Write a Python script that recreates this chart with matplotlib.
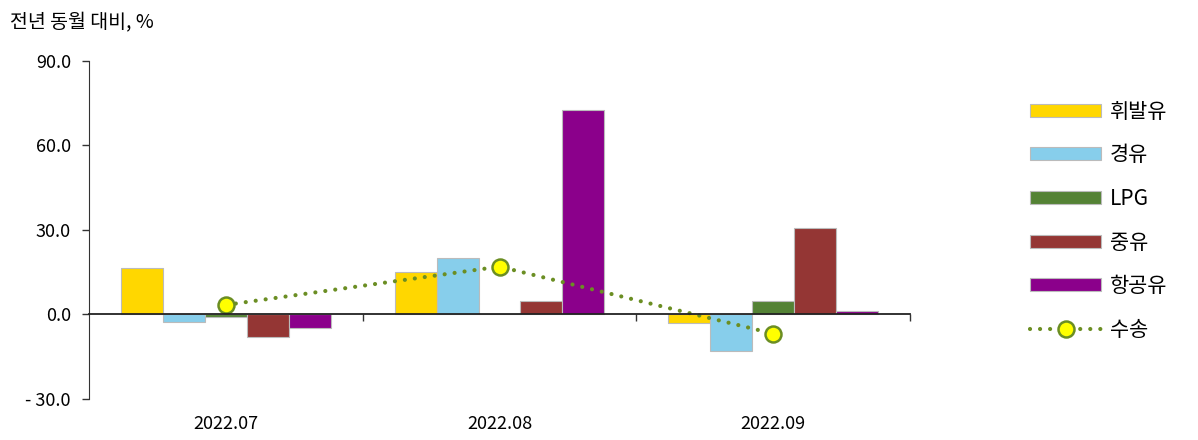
import numpy as np
import matplotlib.pyplot as plt
from matplotlib.transforms import blended_transform_factory

plt.rcParams['font.family'] = ['Noto Sans CJK KR', 'DejaVu Sans']

# data
months = ['2022.07', '2022.08', '2022.09']
series = ['휘발유', '경유', 'LPG', '중유', '항공유']
gasoline = [16.5, 15.1, -2.9]
diesel = [-2.8, 20.0, -13.0]
lpg = [-0.8, 0.0, 4.9]
heavy = [-8.0, 4.8, 30.8]
jet = [-4.8, 72.6, 1.2]
transport = [3.4, 17.0, -6.8]
yticks = [-30, 0, 30, 60, 90]
ylabels = ['- 30.0', '0.0', '30.0', '60.0', '90.0']

colors = ['#FFD700', '#87CEEB', '#548235', '#943634', '#8B008B']

fig = plt.figure(figsize=(11.98, 4.4), dpi=100)
ax = fig.add_axes([0.0743, 0.0932, 0.6853, 0.7682])

x = np.arange(len(months))
w = 0.153
for i, (name, vals) in enumerate(zip(series, [gasoline, diesel, lpg, heavy, jet])):
    ax.bar(x + (i - 2) * w, vals, width=w, color=colors[i], edgecolor='#BBBBBB',
           linewidth=0.8, label=name, zorder=2)

ax.plot(x, transport, color='#6B8E23', linestyle=(0, (0.01, 2.4)), linewidth=3,
        dash_capstyle='round', marker='o', markersize=11.5, markerfacecolor='#FFFF00',
        markeredgecolor='#6B8E23', markeredgewidth=1.8, label='수송', zorder=3)

ax.set_xlim(-0.5, 2.5)
ax.set_ylim(-30, 90)
ax.set_yticks(yticks)
ax.set_yticklabels(ylabels, fontsize=13)
ax.tick_params(axis='y', length=5, width=1, color='#333333', pad=8)

for s in ['top', 'right']:
    ax.spines[s].set_visible(False)
ax.spines['left'].set_color('#333333')
ax.spines['bottom'].set_position(('data', 0))
ax.spines['bottom'].set_color('#222222')
ax.spines['bottom'].set_linewidth(1.3)
ax.spines['bottom'].set_zorder(4)
ax.set_xticks([0.5, 1.5, 2.5])
ax.set_xticklabels([])
ax.tick_params(axis='x', length=5, width=1, color='#333333')

trans = blended_transform_factory(ax.transData, ax.transAxes)
for xi, m in zip(x, months):
    ax.text(xi, -0.075, m, transform=trans, ha='center', va='center', fontsize=13)

fig.text(0.008, 0.948, '전년 동월 대비, %', fontsize=14, ha='left', va='center')

handles, labels = ax.get_legend_handles_labels()
order = [1, 2, 3, 4, 5, 0]
fig.legend([handles[k] for k in order], [labels[k] for k in order],
           loc='upper left', bbox_to_anchor=(0.8445, 0.814), frameon=False, fontsize=15,
           handlelength=3.4, handleheight=0.58, labelspacing=1.04, handletextpad=0.4)

fig.savefig('out.png', dpi=100)
